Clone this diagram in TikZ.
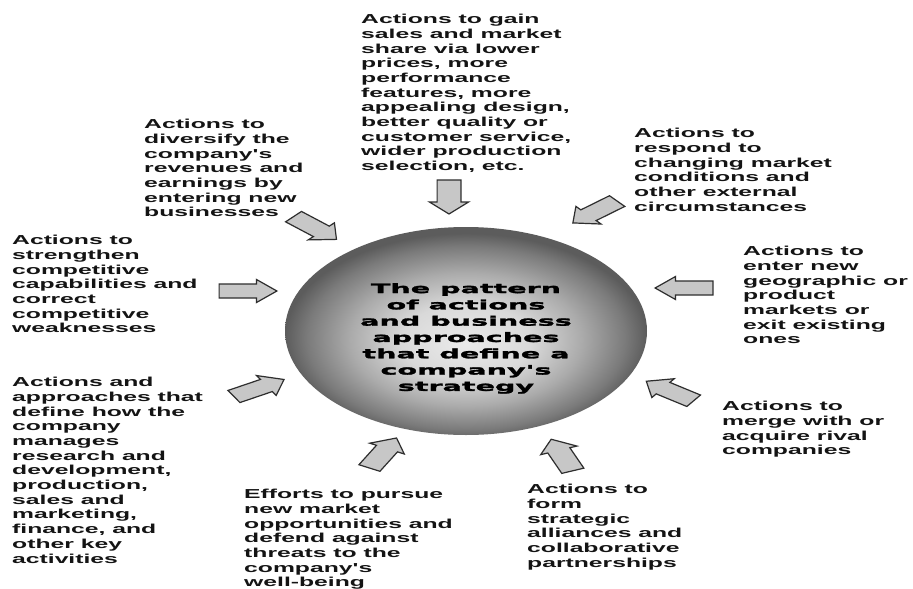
\documentclass[tikz,border=0pt]{standalone}
\usepackage{fontspec}
\newfontfamily\outerfont{Liberation Sans}[FakeStretch=1.9]
\newfontfamily\centerfont{DejaVu Sans}[FakeStretch=2.2,FakeBold=2]
\pgfdeclareradialshading{orb}{\pgfpoint{0bp}{-3bp}}{color(0bp)=(black!8); color(9bp)=(black!15); color(16bp)=(black!33); color(22bp)=(black!52); color(25bp)=(black!64); color(50bp)=(black!64)}
\newcommand\blkarrow[3]{%
  \begin{scope}[shift={(#1,#2)},xscale=1.7]
    \begin{scope}[rotate=#3]
      \draw[blockarrow] (-17,-7) -- (5,-7) -- (5,-11.5) -- (17,0) -- (5,11.5) -- (5,7) -- (-17,7) -- cycle;
    \end{scope}
  \end{scope}}
\tikzset{
  lbl/.style={anchor=north west, inner sep=0pt, align=left, text=black!92,
    font=\outerfont\bfseries\fontsize{13}{14.7}\selectfont},
  ctr/.style={anchor=north, inner sep=0pt, align=center, text=black,
    font=\centerfont\bfseries\fontsize{13}{16.3}\selectfont},
  blockarrow/.style={draw=black!82, line width=1.2pt, line join=miter, fill=black!22},
}
\begin{document}
\begin{tikzpicture}[x=1pt,y=-1pt]
\useasboundingbox[fill=white] (0,0) rectangle (913,589);
% central ellipse
\shade[shading=orb] (466,331) ellipse [x radius=181, y radius=104];
\node[ctr] (core) at (466,283) {The pattern\\of actions\\and business\\approaches\\that define a\\company's\\strategy};
% labels
\node[lbl] (gain) at (361,14) {Actions to gain\\sales and market\\share via lower\\prices, more\\performance\\features, more\\appealing design,\\better quality or\\customer service,\\wider production\\selection, etc.};
\node[lbl] (divers) at (144,119) {Actions to\\diversify the\\company's\\revenues and\\earnings by\\entering new\\businesses};
\node[lbl] (respond) at (634,128) {Actions to\\respond to\\changing market\\conditions and\\other external\\circumstances};
\node[lbl] (streng) at (12,235) {Actions to\\strengthen\\competitive\\capabilities and\\correct\\competitive\\weaknesses};
\node[lbl] (enter) at (743,246) {Actions to\\enter new\\geographic or\\product\\markets or\\exit existing\\ones};
\node[lbl] (manage) at (12,377) {Actions and\\approaches that\\define how the\\company\\manages\\research and\\development,\\production,\\sales and\\marketing,\\finance, and\\other key\\activities};
\node[lbl] (efforts) at (244,489) {Efforts to pursue\\new market\\opportunities and\\defend against\\threats to the\\company's\\well-being};
\node[lbl] (form) at (527,484) {Actions to\\form\\strategic\\alliances and\\collaborative\\partnerships};
\node[lbl] (merge) at (722,401) {Actions to\\merge with or\\acquire rival\\companies};
% block arrows
\blkarrow{449}{197}{-90}
\blkarrow{315}{228}{-42}
\blkarrow{595}{212}{-140}
\blkarrow{248}{291}{0}
\blkarrow{684}{288}{180}
\blkarrow{259}{388}{30}
\blkarrow{670}{391}{145}
\blkarrow{383}{453}{62}
\blkarrow{562}{455}{112}
\end{tikzpicture}
\end{document}
